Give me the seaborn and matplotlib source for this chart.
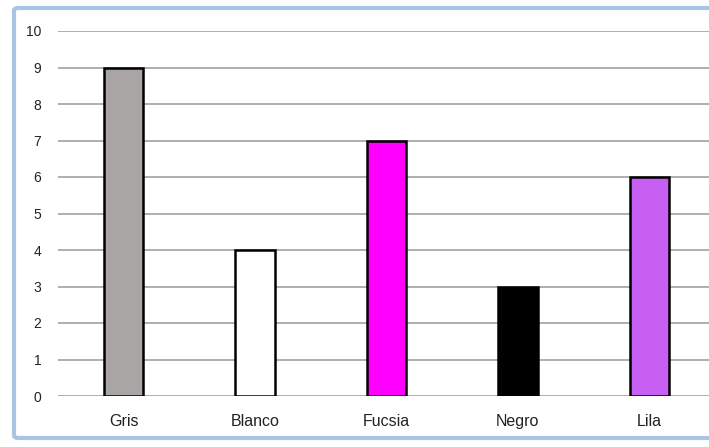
import pandas as pd
import matplotlib.pyplot as plt
import seaborn as sns
from matplotlib.patches import FancyBboxPatch

# data
colores = ['Gris', 'Blanco', 'Fucsia', 'Negro', 'Lila']
valores = [9, 4, 7, 3, 6]
paleta = ['#aaa5a5', '#ffffff', '#ff00ff', '#000000', '#c65ff2']

df = pd.DataFrame({'color': colores, 'valor': valores})

sns.set_style('white')
plt.rcParams['font.family'] = ['Liberation Sans', 'DejaVu Sans']

fig = plt.figure(figsize=(7.09, 4.47), dpi=100)
fig.patch.set_facecolor('white')

# light blue frame around the chart (cut off on the right like the original)
frame = FancyBboxPatch((14 / 709, 9 / 447), 1.2, 430 / 447,
                       boxstyle='round,pad=0,rounding_size=0.006',
                       transform=fig.transFigure, facecolor='none',
                       edgecolor='#a9c5e3', linewidth=3, zorder=10)
fig.patches.append(frame)

ax = fig.add_axes([58 / 709, 51 / 447, 657 / 709, 365 / 447])
ax.set_facecolor('none')

sns.barplot(data=df, x='color', y='valor', hue='color', palette=paleta,
            saturation=1, dodge=False, width=0.3, edgecolor='black',
            linewidth=1.8, legend=False, ax=ax, zorder=3)

ax.set_ylim(0, 10)
ax.set_xlim(-0.5, 4.5)
ax.set_yticks(range(0, 11))
for y in range(0, 11):
    ax.axhline(y, color='#a8a8a8', linewidth=1.3, zorder=1)

for s in ax.spines.values():
    s.set_visible(False)
ax.tick_params(axis='both', length=0, colors='#222222')
ax.tick_params(axis='y', pad=12, labelsize=10)
ax.tick_params(axis='x', pad=13, labelsize=11.5)
ax.set_xlabel('')
ax.set_ylabel('')

plt.savefig('out.png', dpi=100)
plt.close()
